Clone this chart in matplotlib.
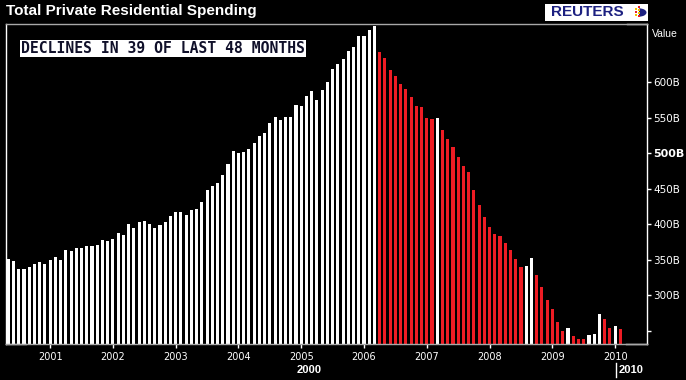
import matplotlib

matplotlib.use("Agg")
import numpy as np
import pandas as pd
from matplotlib import pyplot as plt
from matplotlib.lines import Line2D
from matplotlib.patches import Rectangle, Wedge

# monthly total private residential spending, billions of dollars (May 2000 - Feb 2010)
start_month = "2000-05"
spending = [
    350.7, 348.7, 337.5, 337.5, 339.4, 344.5, 347.3, 344.5, 349.3, 354.4,
    350.2, 363.4, 362.0, 367.0, 367.0, 369.9, 369.9, 371.3, 377.4, 377.0,
    378.9, 387.3, 385.4, 400.0, 395.2, 402.8, 405.1, 400.0, 395.2, 398.6,
    402.8, 412.1, 417.7, 417.7, 413.5, 420.6, 421.8, 431.6, 448.5, 453.3,
    458.6, 469.8, 485.5, 503.3, 500.0, 502.0, 506.5, 513.8, 523.6, 527.9,
    542.9, 551.5, 547.3, 551.4, 551.5, 568.5, 567.1, 580.3, 587.3, 575.5,
    589.6, 600.8, 619.2, 625.4, 632.4, 644.6, 650.3, 665.2, 665.4, 674.2,
    678.5, 643.2, 634.2, 617.9, 609.4, 598.2, 591.1, 579.9, 567.0, 564.8,
    550.1, 548.3, 549.0, 533.2, 520.6, 508.9, 495.2, 482.5, 473.2, 448.7,
    427.2, 410.7, 396.6, 386.8, 383.9, 374.1, 364.2, 351.5, 340.5, 341.5,
    352.1, 328.2, 311.3, 293.0, 280.3, 262.0, 249.7, 253.5, 242.3, 238.5,
    238.2, 244.5, 244.8, 273.2, 266.2, 254.4, 257.2, 252.1,
]
y_ticks = [250, 300, 350, 400, 450, 500, 550, 600]
y_tick_labels = ["", "300B", "350B", "400B", "450B", "500B", "550B", "600B"]
last_n = 48

W, H = 686, 380
RED = "#ee1c24"
GREY = "#a8a8a8"

values = np.array(spending)
n = len(values)
months = pd.date_range(start_month, periods=n, freq="MS")
x = np.arange(n)

# red = month-on-month decline within the last 48 months
colors = ["white"] * n
for i in range(n - last_n, n):
    if values[i] < values[i - 1]:
        colors[i] = RED

fig = plt.figure(figsize=(W / 100, H / 100), dpi=100, facecolor="black")
ax = fig.add_axes([6 / W, 36 / H, 641 / W, 320 / H], facecolor="black")

ax.bar(x, values, width=0.6, color=colors, linewidth=0)

ax.set_xlim(-0.44, n - 1 + 5.1)
ax.set_ylim(231.4, 682.0)

jan = [i for i, m in enumerate(months) if m.month == 1]
ax.set_xticks(jan)
ax.set_xticklabels([str(months[i].year) for i in jan])
ax.tick_params(axis="x", colors="white", length=3, width=1, pad=3, labelsize=7)

ax.yaxis.tick_right()
ax.set_yticks(y_ticks)
ax.set_yticklabels(y_tick_labels)
ax.tick_params(axis="y", colors="white", length=3, width=1, pad=1.5, labelsize=7.5)
for lbl in ax.get_yticklabels():
    if lbl.get_text() == "500B":
        lbl.set_fontweight("bold")
        lbl.set_fontsize(8)

for side in ("left", "right"):
    ax.spines[side].set_color("white")
    ax.spines[side].set_linewidth(1)
for side in ("top", "bottom"):
    ax.spines[side].set_color(GREY)
    ax.spines[side].set_linewidth(1)

# white corner segments of the frame
for x0, x1, yy in [(0, 20 / 641, 0), (620 / 641, 1, 0), (621 / 641, 1, 1)]:
    ax.add_line(Line2D([x0, x1], [yy, yy], transform=ax.transAxes, color="white",
                       linewidth=1, clip_on=False))

plt.rcParams["font.family"] = ["Liberation Sans", "DejaVu Sans"]

fig.text(6 / W, 1 - 15.5 / H, "Total Private Residential Spending", color="white",
         fontsize=11, fontweight="bold", family="Liberation Sans", va="baseline", ha="left")

fig.text(652 / W, 1 - 34 / H, "Value", color="white", fontsize=7.5,
         family="Liberation Sans", va="center", ha="left")

fig.text(163 / W, 1 - 48.5 / H, "DECLINES IN 39 OF LAST 48 MONTHS", color="#10102a",
         fontsize=10.6, family="DejaVu Sans Mono", fontweight="bold", ha="center", va="center",
         bbox=dict(boxstyle="square,pad=0.1", facecolor="white", edgecolor="none"))

fig.text(309 / W, 1 - 370 / H, "2000", color="white", fontsize=8, fontweight="bold",
         family="Liberation Sans", ha="center", va="center")
fig.text(619 / W, 1 - 370 / H, "2010", color="white", fontsize=8, fontweight="bold",
         family="Liberation Sans", ha="left", va="center")
fig.add_artist(Line2D([616 / W, 616 / W], [1 - 377 / H, 1 - 363 / H], color="white",
                      linewidth=1))

# Reuters logo
fig.add_artist(Rectangle((545 / W, 1 - 21 / H), 103 / W, 17 / H, facecolor="white",
                         edgecolor="none", transform=fig.transFigure))
fig.text(587 / W, 1 - 12.5 / H, "REUTERS", color="#1c2080", fontsize=11, fontweight="bold",
         family="Liberation Sans", ha="center", va="center")
fig.add_artist(Wedge((639 / W, 1 - 12.5 / H), 7.5 / W, -90, 90, facecolor="#1c2080",
                     edgecolor="none", transform=fig.transFigure))
for dx, dy, c in [(-4, -3, "#f2c200"), (-4, 0, RED), (-4, 3, "#f2c200"), (-1, -5, RED),
                  (-1, -2, "#f2c200"), (-1, 1, "#f2c200"), (-1, 4, RED)]:
    fig.add_artist(Rectangle(((639 + dx) / W, (1 - (12.5 + dy) / H)), 1.5 / W, 1.5 / H,
                             facecolor=c, edgecolor="none", transform=fig.transFigure))

fig.savefig("out.png", dpi=100, facecolor="black")
plt.close(fig)
